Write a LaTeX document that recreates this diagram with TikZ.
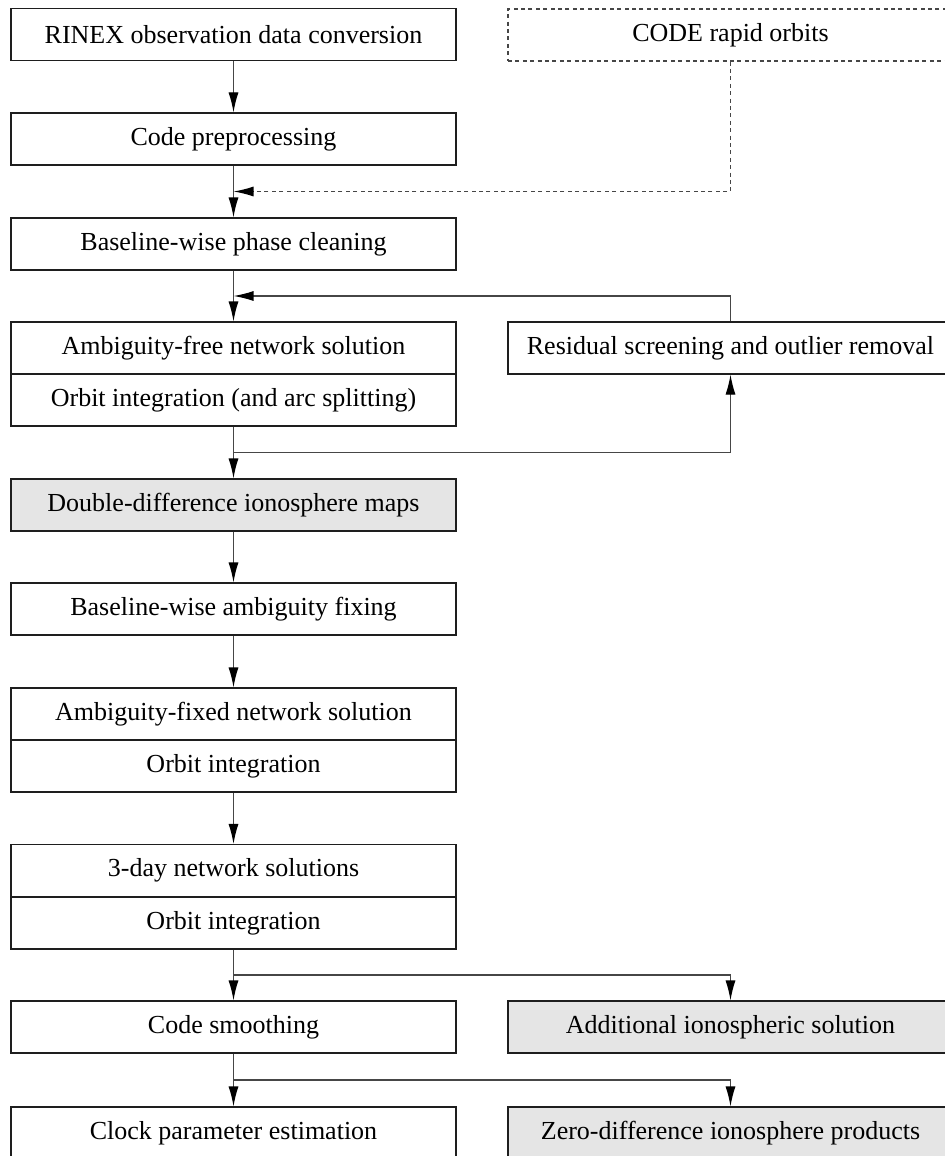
\documentclass[tikz,border=0pt]{standalone}
\usepackage{fontspec}
\setmainfont{Liberation Serif}
\usetikzlibrary{arrows.meta,positioning,calc}
\definecolor{ink}{RGB}{30,30,30}
\definecolor{wire}{RGB}{70,70,70}
\definecolor{prod}{RGB}{229,229,229}
\tikzset{box/.style={draw=ink,line width=0.6pt,minimum width=222.5pt,minimum height=26pt,
    inner sep=0pt,align=center,font=\fontsize{13}{15}\selectfont},
  prodbox/.style={box,fill=prod},
  extbox/.style={box,draw=wire,dash pattern=on 2pt off 1.7pt},
  flow/.style={-{Latex[length=10pt,width=5pt,color=black]},line width=0.6pt,wire},
  extflow/.style={flow,dash pattern=on 2pt off 1.7pt}}
\begin{document}
\begin{tikzpicture}[x=0.5pt, y=0.5pt]
\useasboundingbox (0,0) rectangle (945,-1156);
\node[box] (rinex) at (233.5,-34.5) {RINEX observation data conversion};
\node[extbox] (orbits) at (730.5,-35) {CODE rapid orbits};
\node[box] (codepre) at (233.5,-139) {Code preprocessing};
\node[box] (phase) at (233.5,-244) {Baseline-wise phase cleaning};
\node[box] (afree) at (233.5,-348) {Ambiguity-free network solution};
\node[box] (aforb) at (233.5,-400) {Orbit integration (and arc splitting)};
\node[box] (resid) at (730.5,-348) {Residual screening and outlier removal};
\node[prodbox] (ddmap) at (233.5,-505) {Double-difference ionosphere maps};
\node[box] (fixing) at (233.5,-609) {Baseline-wise ambiguity fixing};
\node[box] (afix) at (233.5,-714) {Ambiguity-fixed network solution};
\node[box] (fxorb) at (233.5,-766) {Orbit integration};
\node[box] (threeday) at (233.5,-870.5) {3-day network solutions};
\node[box] (tdorb) at (233.5,-923) {Orbit integration};
\node[box] (smooth) at (233.5,-1027) {Code smoothing};
\node[prodbox] (addiono) at (730.5,-1027) {Additional ionospheric solution};
\node[box] (clock) at (233.5,-1133) {Clock parameter estimation};
\node[prodbox] (zdiono) at (730.5,-1133) {Zero-difference ionosphere products};
\coordinate (orbjoin) at ($(codepre.south)!0.5!(phase.north)$);
\coordinate (resjoin) at ($(phase.south)!0.5!(afree.north)$);
\coordinate (resfork) at ($(aforb.south)!0.5!(ddmap.north)$);
\coordinate (ionfork) at ($(tdorb.south)!0.5!(smooth.north)$);
\coordinate (zdfork) at ($(smooth.south)!0.5!(clock.north)$);
\draw[flow] (rinex) -- (codepre);
\draw[flow] (codepre) -- (phase);
\draw[extflow] (orbits.south) |- (orbjoin);
\draw[flow] (phase) -- (afree);
\draw[flow] (resid.north) |- (resjoin);
\draw[flow] (aforb) -- (ddmap);
\draw[flow] (resfork) -| (resid.south);
\draw[flow] (ddmap) -- (fixing);
\draw[flow] (fixing) -- (afix);
\draw[flow] (fxorb) -- (threeday);
\draw[flow] (tdorb) -- (smooth);
\draw[flow] (ionfork) -| (addiono.north);
\draw[flow] (smooth) -- (clock);
\draw[flow] (zdfork) -| (zdiono.north);
\end{tikzpicture}
\end{document}
